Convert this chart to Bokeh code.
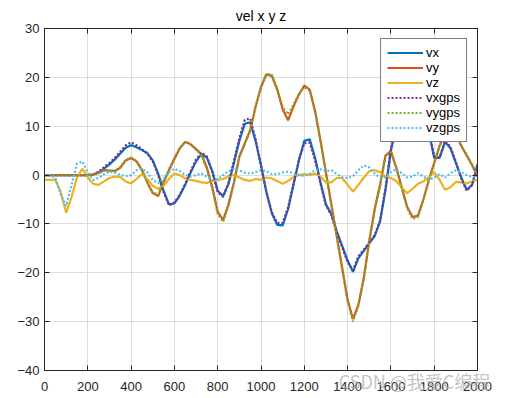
from bokeh.plotting import figure
from bokeh.models import LinearAxis, FixedTicker, Legend, LegendItem, Range1d
from bokeh.embed import file_html
from bokeh.resources import INLINE

t = list(range(0, 2001, 25))

vx = [0, 0, 0, 0, 0, 0, 0, 0, 0, 0.1,
      0.5, 1.3, 2.2, 3.2, 4.4, 5.6, 6.1, 5.7, 5.1, 4.5,
      3.0, 0.3, -3.2, -6.0, -5.8, -4.2, -2.0, 0.5, 2.8, 4.3,
      3.6, 0.8, -3.2, -4.3, -1.8, 2.5, 7.0, 10.5, 10.8, 7.0,
      2.0, -3.5, -7.8, -10.2, -10.3, -7.0, -2.0, 3.0, 7.0, 7.3,
      3.5, -1.5, -6.0, -8.0, -11.5, -14.5, -17.5, -19.8, -17.0, -15.5,
      -14.0, -12.5, -9.5, -3.0, 5.0, 10.0, 13.5, 15.0, 15.0, 14.0,
      12.0, 9.0, 3.5, 3.5, 6.8, 5.5, 2.5, -0.5, -3.0, -2.0,
      2.2]

vy = [0, 0, 0, 0, 0, 0, 0, 0, 0, 0.1,
      0.5, 1.0, 0.9, 0.8, 1.5, 3.0, 3.5, 2.8, 1.0, -1.5,
      -3.7, -4.3, -1.5, 1.0, 3.3, 5.5, 6.8, 6.3, 5.3, 4.3,
      1.5, -2.5, -7.5, -9.2, -6.0, -1.5, 3.8, 6.5, 9.2, 14.0,
      18.0, 20.6, 20.3, 17.5, 13.5, 11.2, 14.0, 16.5, 18.3, 17.5,
      13.0, 7.0, 0.5, -6.0, -12.5, -19.0, -25.5, -29.5, -26.5, -21.0,
      -13.5, -7.0, -2.0, 4.0, 4.9, 1.5, -2.5, -6.5, -8.6, -8.3,
      -5.0, -1.0, 2.5, 6.0, 8.5, 9.5, 8.5, 6.0, 4.0, 2.0,
      -0.3]

vz = [-1, -1, -1, -3.5, -7.7, -4.5, -0.5, 1.3, -0.5, -1.8,
      -2.0, -1.3, -0.6, -0.3, -0.4, -1.3, -1.7, -0.8, 0.2, -0.8,
      -2.2, -2.8, -2.2, -0.8, 0.3, 0.0, -0.7, -1.0, -1.2, -1.5,
      -1.6, -1.2, -1.0, -0.8, -0.2, 0.0, -0.5, -1.0, -1.2, -0.8,
      -1.0, -0.5, -0.7, -1.2, -1.8, -1.2, -0.4, 0.0, 0.2, 0.0,
      0.3, -0.3, -1.5, -1.5, -0.6, -0.6, -2.0, -3.4, -2.0, -0.5,
      0.8, 1.0, 0.6, -0.3, -0.6, -1.2, -2.5, -3.7, -2.8, -1.8,
      -1.3, -0.5, 0.6, -1.0, -3.0, -2.5, -1.4, -1.5, -1.7, -1.3,
      -1.0]

vxgps = [0, 0, 0, 0, 0, 0, 0, 0, 0, 0.1,
         0.7, 1.6, 2.5, 3.5, 4.8, 6.1, 6.7, 6.1, 5.3, 4.4,
         2.8, 0.0, -3.5, -6.2, -5.6, -4.0, -1.8, 0.8, 3.2, 4.6,
         3.8, 0.6, -3.5, -4.5, -1.6, 2.9, 7.6, 11.3, 11.6, 7.3,
         2.0, -3.5, -7.6, -9.8, -9.8, -6.6, -1.8, 3.0, 6.5, 6.6,
         3.0, -1.8, -6.2, -8.2, -11.8, -14.8, -17.8, -19.5, -16.6, -15.2,
         -13.8, -12.3, -9.3, -2.7, 5.3, 10.3, 13.8, 15.2, 15.2, 14.2,
         12.2, 9.3, 3.8, 3.6, 7.0, 5.8, 2.7, -0.7, -3.2, -2.1,
         2.0]

vygps = [0, 0, 0, 0, 0, 0, 0, 0, 0, 0.1,
         0.4, 0.9, 0.9, 0.9, 1.6, 3.1, 3.6, 2.9, 1.1, -1.6,
         -3.5, -4.0, -1.3, 1.2, 3.5, 5.6, 6.8, 6.2, 5.2, 4.0,
         1.2, -2.8, -7.9, -9.6, -6.2, -1.6, 3.6, 6.4, 9.0, 14.0,
         18.2, 20.8, 20.5, 17.8, 14.0, 12.4, 14.5, 16.6, 18.0, 17.3,
         13.0, 7.0, 0.5, -6.2, -12.8, -19.4, -25.9, -30.0, -26.8, -21.2,
         -13.6, -7.1, -2.2, 3.8, 4.7, 1.3, -2.7, -6.8, -9.0, -8.6,
         -5.2, -1.2, 2.4, 5.9, 8.4, 9.4, 8.4, 6.0, 4.2, 2.2,
         -0.2]

vzgps = [0, 0, -0.5, -4.0, -6.3, -2.0, 2.3, 2.8, 0.5, -1.0,
         -0.6, 0.2, 0.7, 0.5, 0.0, -0.2, 0.0, 1.0, 1.3, 0.5,
         -1.0, -1.7, -0.8, 0.6, 1.3, 0.8, 0.0, -0.3, 0.0, 0.3,
         -0.3, -1.0, -0.8, 0.0, 0.8, 1.3, 1.0, 0.5, 0.3, 0.6,
         1.0, 0.8, 0.2, 0.2, 0.5, 0.7, 0.4, 0.0, -0.2, 0.3,
         1.0, 1.2, 0.8, 1.0, 0.2, -0.4, -0.6, -0.2, 1.0, 2.0,
         1.6, 0.3, -0.6, -0.4, 0.6, 1.2, 0.4, -0.5, -0.3, 0.4,
         -0.3, -1.0, -0.5, 0.2, -0.5, 0.4, 1.0, 0.6, 0.0, -0.4,
         -0.5]

xticks = [0, 200, 400, 600, 800, 1000, 1200, 1400, 1600, 1800, 2000]
yticks = [-40, -30, -20, -10, 0, 10, 20, 30]

names = ["vx", "vy", "vz", "vxgps", "vygps", "vzgps"]
colors = ["#0072BD", "#D95319", "#EDB120", "#7E2F8E", "#77AC30", "#4DBEEE"]
series = [vx, vy, vz, vxgps, vygps, vzgps]

FONT = "Liberation Sans"
AX = "#262626"

p = figure(width=499, height=398, output_backend="svg", toolbar_location=None,
           x_range=Range1d(0, 2000), y_range=Range1d(-40, 30),
           min_border_left=44, min_border_right=22, min_border_top=28, min_border_bottom=28,
           title="vel x y z")
p.title.align = "center"
p.title.text_font = FONT
p.title.text_font_size = "14px"
p.title.text_font_style = "normal"
p.title.text_color = "#000000"
p.title.standoff = 9

p.background_fill_color = "white"
p.border_fill_color = "white"
p.outline_line_color = AX
p.outline_line_width = 1

for ax in [p.xaxis[0], p.yaxis[0]]:
    ax.major_label_text_font = FONT
    ax.major_label_text_font_size = "13px"
    ax.major_label_text_color = AX
    ax.axis_line_color = AX
    ax.major_tick_line_color = AX
    ax.major_tick_in = 5
    ax.major_tick_out = 0
    ax.minor_tick_line_color = None
    ax.major_label_standoff = 5
p.xaxis[0].ticker = FixedTicker(ticks=xticks)
p.yaxis[0].ticker = FixedTicker(ticks=yticks)
p.xaxis[0].major_label_standoff = 11

# watermark as a faint axis label overlapping the tick labels
xa = p.xaxis[0]
xa.axis_label = "CSDN @我爱C编程" + "\u3000" * 7
xa.axis_label_align = "end"
xa.axis_label_standoff = -26
xa.axis_label_text_font = "Noto Sans CJK SC"
xa.axis_label_text_font_size = "18px"
xa.axis_label_text_font_style = "normal"
xa.axis_label_text_color = "#b0b0b0"
xa.axis_label_text_alpha = 0.75

for loc, tk in [("right", yticks), ("above", xticks)]:
    a = LinearAxis(ticker=FixedTicker(ticks=tk),
                   major_label_overrides={v: "" for v in tk},
                   major_label_text_font_size="13px",
                   major_tick_in=5, major_tick_out=0, minor_tick_line_color=None,
                   axis_line_color=AX, major_tick_line_color=AX, major_label_standoff=0)
    p.add_layout(a, loc)

p.xgrid.ticker = FixedTicker(ticks=xticks)
p.ygrid.ticker = FixedTicker(ticks=yticks)
p.grid.grid_line_color = "#dcdcdc"
p.grid.grid_line_width = 1

items = []
for i, (nm, c, s) in enumerate(zip(names, colors, series)):
    if i < 3:
        r = p.line(t, s, line_color=c, line_width=2.2)
    else:
        r = p.line(t, s, line_color=c, line_width=2.2, line_dash="2 2")
    items.append(LegendItem(label=nm, renderers=[r]))

leg = Legend(items=items, location="top_right")
leg.margin = 10
leg.padding = 6
leg.spacing = 0
leg.glyph_height = 15
leg.label_height = 15
leg.glyph_width = 36
leg.label_standoff = 3
leg.label_text_font = FONT
leg.label_text_font_size = "13px"
leg.label_text_color = "#000000"
leg.border_line_color = "#000000"
leg.border_line_width = 1
leg.background_fill_color = "white"
leg.background_fill_alpha = 1
p.add_layout(leg, "center")

open("out.html", "w").write(file_html(p, INLINE))
